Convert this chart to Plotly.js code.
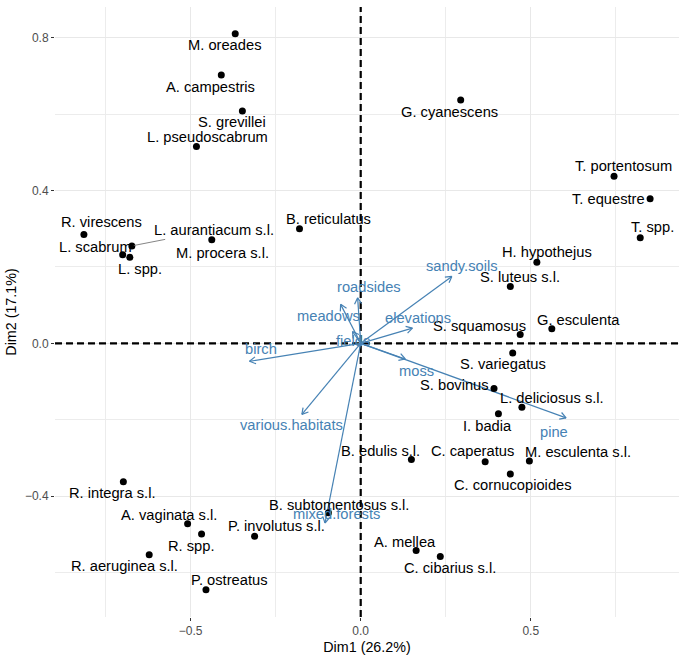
<!DOCTYPE html>
<html>
<head>
<meta charset="utf-8">
<script src="https://cdn.plot.ly/plotly-3.0.1.min.js"></script>
<style>
  html, body { margin: 0; padding: 0; background: #fff; }
  #chart { width: 685px; height: 658px; }
</style>
</head>
<body>
<div id="chart"></div>
<script>
// species scores (individuals)
const species = [
  "M. oreades", "A. campestris", "S. grevillei", "L. pseudoscabrum", "R. virescens",
  "L. aurantiacum s.l.", "L. scabrum", "L. spp.", "M. procera s.l.", "B. reticulatus",
  "G. cyanescens", "T. portentosum", "T. equestre", "T. spp.", "H. hypothejus",
  "S. luteus s.l.", "G. esculenta", "S. squamosus", "S. variegatus", "S. bovinus",
  "L. deliciosus s.l.", "I. badia", "B. edulis s.l.", "C. caperatus", "M. esculenta s.l.",
  "C. cornucopioides", "B. subtomentosus s.l.", "A. mellea", "C. cibarius s.l.", "R. integra s.l.",
  "A. vaginata s.l.", "P. involutus s.l.", "R. spp.", "R. aeruginea s.l.", "P. ostreatus"
];
const dim1 = [
  -0.369, -0.410, -0.348, -0.483, -0.814,
  -0.673, -0.700, -0.679, -0.438, -0.180,
  0.294, 0.745, 0.851, 0.822, 0.518,
  0.440, 0.562, 0.469, 0.447, 0.392,
  0.474, 0.405, 0.149, 0.366, 0.496,
  0.440, -0.095, 0.163, 0.234, -0.698,
  -0.509, -0.312, -0.468, -0.622, -0.455
];
const dim2 = [
  0.810, 0.702, 0.608, 0.515, 0.285,
  0.255, 0.232, 0.225, 0.271, 0.300,
  0.637, 0.437, 0.378, 0.276, 0.212,
  0.149, 0.038, 0.023, -0.025, -0.118,
  -0.167, -0.184, -0.304, -0.310, -0.308,
  -0.342, -0.443, -0.542, -0.558, -0.362,
  -0.472, -0.505, -0.499, -0.553, -0.645
];

// variable loadings (arrows)
const variables = [
  "sandy.soils", "roadsides", "meadows", "elevations", "fields",
  "birch", "moss", "various.habitats", "pine", "mixed.forests"
];
const varDim1 = [0.268, -0.009, -0.059, 0.152, -0.024, -0.327, 0.131, -0.173, 0.604, -0.105];
const varDim2 = [0.175, 0.119, 0.102, 0.040, 0.031, -0.047, -0.041, -0.186, -0.195, -0.470];

// repelled label offsets in px (right, up)
const spShift = [
  [-11, -11], [-11, -12], [-10, -11], [11, 10], [18, 12],
  [82, 16], [-27, 8], [10, -12], [11, -13], [29, 10],
  [-11, -12], [9, 10], [-42, 0], [12, 11], [10, 10],
  [10, 9], [27, 9], [-41, 9], [-10, -11], [-40, 3],
  [30, 9], [-11, -12], [-31, 9], [-13, 11], [49, 9],
  [3, -11], [11, 8], [-11, 9], [10, -11], [-11, -11],
  [-19, 9], [22, 10], [-10, -12], [-25, -11], [23, 10]
];
const varShift = [
  [10, 10], [11, 11], [-12, -12], [6, 10], [0, -10],
  [11, 12], [11, -12], [-10, -11], [-12, -14], [11, 9]
];

const FONT = "Liberation Sans, Arial, sans-serif";
const BLUE = "#4682B4";
const LABEL_SIZE = 14.7;
const W = 685, H = 658;
const margin = { l: 55, r: 6, t: 7, b: 41 };
const xRange = [-0.899, 0.936];
const yRange = [-0.716, 0.880];

// px per data unit, used to draw open arrow heads
const sx = (W - margin.l - margin.r) / (xRange[1] - xRange[0]);
const sy = (H - margin.t - margin.b) / (yRange[1] - yRange[0]);
const headLen = 7, headAng = Math.PI / 6;

const ax = [], ay = [];
variables.forEach((v, i) => {
  const hx = varDim1[i], hy = varDim2[i];
  ax.push(0, hx, null);
  ay.push(0, hy, null);
  const th = Math.atan2(hy * sy, hx * sx);
  [th + Math.PI - headAng, th + Math.PI + headAng].forEach(a => {
    ax.push(hx + headLen * Math.cos(a) / sx, hx, null);
    ay.push(hy + headLen * Math.sin(a) / sy, hy, null);
  });
});

const dashed = { color: "#000", width: 2.2, dash: "7px,4px" };

const traces = [
  // reference lines through the origin
  { type: "scatter", mode: "lines", x: [0, 0], y: yRange, line: dashed, hoverinfo: "skip" },
  { type: "scatter", mode: "lines", x: xRange, y: [0, 0], line: dashed, hoverinfo: "skip" },
  {
    type: "scatter",
    mode: "lines",
    x: ax,
    y: ay,
    line: { color: BLUE, width: 1.2 },
    hoverinfo: "skip",
  },
  {
    type: "scatter",
    mode: "markers",
    x: dim1,
    y: dim2,
    text: species,
    marker: { color: "#000", size: 7 },
    hoverinfo: "text",
  },
];

const annotations = [];
species.forEach((s, i) => {
  const a = {
    x: dim1[i], y: dim2[i], text: s,
    font: { family: FONT, size: LABEL_SIZE, color: "#000" },
    xanchor: "center", yanchor: "middle",
  };
  if (s === "L. aurantiacum s.l.") {
    Object.assign(a, {
      showarrow: true, ax: spShift[i][0], ay: -spShift[i][1],
      arrowhead: 0, arrowwidth: 0.8, arrowcolor: "#666", standoff: 2,
    });
  } else {
    Object.assign(a, { showarrow: false, xshift: spShift[i][0], yshift: spShift[i][1] });
  }
  annotations.push(a);
});
variables.forEach((v, i) => {
  annotations.push({
    x: varDim1[i], y: varDim2[i], text: v,
    showarrow: false,
    xshift: varShift[i][0], yshift: varShift[i][1],
    font: { family: FONT, size: LABEL_SIZE, color: BLUE },
    xanchor: "center", yanchor: "middle",
  });
});

const layout = {
  width: W,
  height: H,
  margin: margin,
  paper_bgcolor: "#fff",
  plot_bgcolor: "#fff",
  showlegend: false,
  font: { family: FONT, color: "#000" },
  xaxis: {
    range: xRange,
    tick0: 0,
    dtick: 0.5,
    tickformat: ".1f",
    showgrid: true,
    gridcolor: "#E8E8E8",
    gridwidth: 1.2,
    zeroline: false,
    ticks: "outside",
    ticklen: 3,
    tickwidth: 1.3,
    tickcolor: "#333",
    tickfont: { family: FONT, size: 12, color: "#4D4D4D" },
    minor: { dtick: 0.25, tick0: 0, showgrid: true, gridcolor: "#ECECEC", gridwidth: 0.9 },
    showline: false,
    title: { text: "Dim1 (26.2%)", font: { family: FONT, size: 14.3, color: "#000" }, standoff: 4 },
  },
  yaxis: {
    range: yRange,
    tick0: 0,
    dtick: 0.4,
    tickformat: ".1f",
    showgrid: true,
    gridcolor: "#E8E8E8",
    gridwidth: 1.2,
    zeroline: false,
    ticks: "outside",
    ticklen: 3,
    tickwidth: 1.3,
    tickcolor: "#333",
    tickfont: { family: FONT, size: 12, color: "#4D4D4D" },
    minor: { dtick: 0.2, tick0: 0, showgrid: true, gridcolor: "#ECECEC", gridwidth: 0.9 },
    showline: false,
    title: { text: "Dim2 (17.1%)", font: { family: FONT, size: 14.3, color: "#000" }, standoff: 4 },
  },
  annotations: annotations,
};

Plotly.newPlot("chart", traces, layout, { displayModeBar: false, responsive: false });
</script>
</body>
</html>
